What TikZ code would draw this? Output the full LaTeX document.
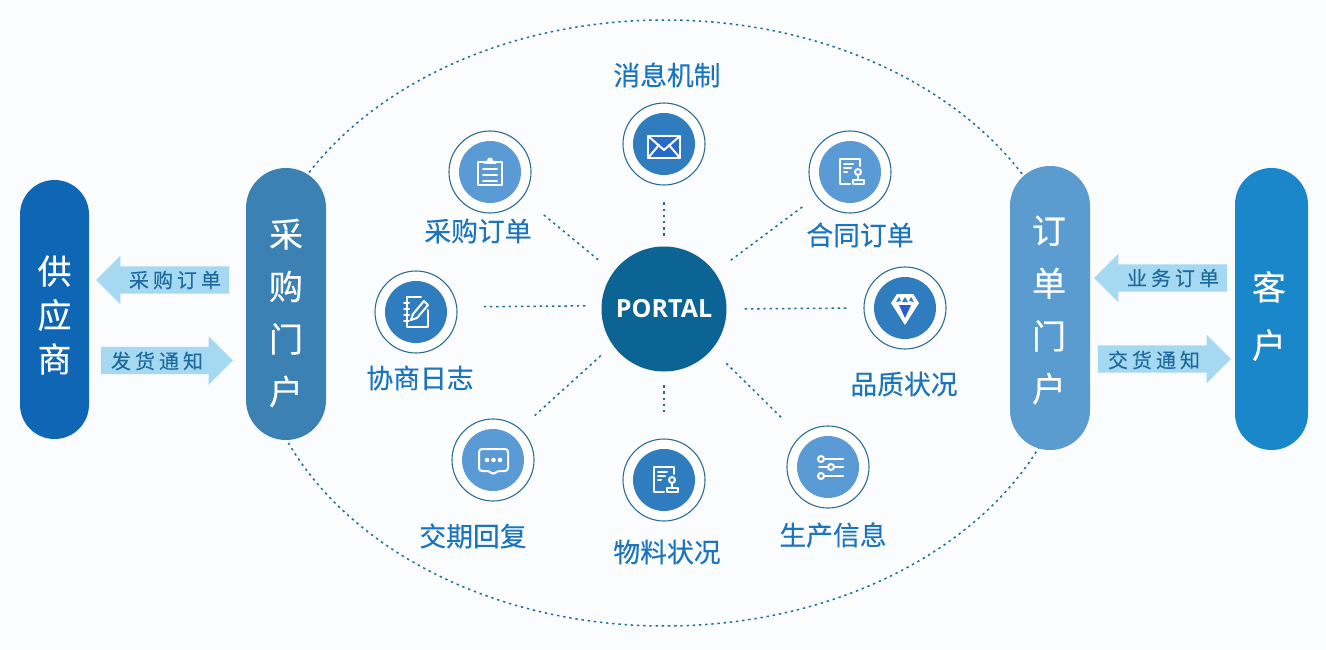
\documentclass[tikz,border=0pt]{standalone}
\usepackage{fontspec}
\usetikzlibrary{shapes.geometric,shapes.arrows}
\setmainfont[FakeBold=0.25]{Noto Sans CJK SC}
\newfontfamily\arrowfont[LetterSpace=20,FakeBold=0.25]{Noto Sans CJK SC}
\newfontfamily\hubfont{Open Sans}
\definecolor{bgc}{HTML}{FBFCFE}
\definecolor{dotc}{HTML}{1F6F8F}
\definecolor{ringc}{HTML}{2A6E96}
\definecolor{hubc}{HTML}{0C6494}
\definecolor{lightb}{HTML}{5B9BD5}
\definecolor{darkb}{HTML}{2F7DBE}
\definecolor{txtc}{HTML}{1A74BE}
\definecolor{arrc}{HTML}{A5D8F1}
\definecolor{arrt}{HTML}{1F6A9C}
\definecolor{supc}{HTML}{0F66B4}
\definecolor{purc}{HTML}{3B81B4}
\definecolor{ordc}{HTML}{5A9BD0}
\definecolor{cusc}{HTML}{1B87CB}
\tikzset{
  dotline/.style={draw=dotc,line width=1.5pt,dash pattern=on 2.4pt off 3.8pt},
  pill/.style={rectangle,inner sep=0pt},
  pilltext/.style={text=white,align=center,inner sep=0pt},
  sat/.style={circle,draw=ringc,line width=1.1pt,fill=white,minimum size=82pt,inner sep=0pt},
  core/.style={circle,minimum size=62pt,inner sep=0pt},
  lab/.style={text=txtc,font=\fontsize{26.8}{30}\selectfont,inner sep=0pt},
  flow/.style={single arrow,fill=arrc,inner xsep=0pt,inner ysep=13.5pt,single arrow tip angle=90,single arrow head extend=10.5pt,anchor=center},
  flowtext/.style={text=arrt,font=\arrowfont\fontsize{20}{24}\selectfont,inner sep=0pt},
  ico/.style={draw=white,line width=2pt,line join=round,line cap=round},
  mail icon/.pic={
    \draw[ico,fill=blue!15!darkb] (-16,-8) rectangle (16,14);
    \draw[ico] (-16,-8) -- (0,6) -- (16,-8) (-16,14) -- (-5,1) (16,14) -- (5,1);
  },
  clip icon/.pic={
    \draw[ico] (-12,-10) rectangle (12,13);
    \fill[white] (-6,-11) -- (-3,-11) -- (-2,-14) -- (2,-14) -- (3,-11) -- (6,-11) -- (6,-8) -- (-6,-8) -- cycle;
    \draw[ico] (-7,-3) -- (7,-3) (-7,3) -- (7,3) (-7,9) -- (7,9);
  },
  stamp icon/.pic={
    \draw[ico] (0,12) -- (-10,12) -- (-10,-13) -- (10,-13) -- (10,-6);
    \draw[ico] (-6,-8) -- (3,-8) (-6,-4) -- (1,-4) (-6,0) -- (-3,0);
    \draw[ico] (8,0) circle (3);
    \draw[ico] (8,3) -- (8,7);
    \draw[ico] (3,8) rectangle (14,12);
  },
  gem icon/.pic={
    \fill[white] (-8,-14) -- (8,-14) -- (14,-5) -- (0,17) -- (-14,-5) -- cycle;
    \fill[blue!25!darkb] (-6,-3) -- (6,-3) -- (0,10) -- cycle;
    \fill[darkb] (0,-11) -- (3,-6) -- (-3,-6) -- cycle;
    \fill[darkb] (-6,-11) -- (-4,-7) -- (-9,-6) -- cycle;
    \fill[darkb] (6,-11) -- (4,-7) -- (9,-6) -- cycle;
  },
  note icon/.pic={
    \draw[ico] (5,-15) -- (-9,-15) -- (-9,15) -- (12,15) -- (12,-2);
    \draw[ico] (-12,-9) -- (-7,-9) (-12,-3) -- (-7,-3) (-12,3) -- (-7,3) (-12,9) -- (-7,9);
    \draw[ico,fill=darkb] (-5,8) -- (-3,2) -- (8,-11) -- (12,-7) -- (1,6) -- cycle;
  },
  chat icon/.pic={
    \draw[ico,rounded corners=3pt] (-14,-11) -- (15,-11) -- (15,11) -- (4,11) -- (0,15) -- (-3,11) -- (-14,11) -- cycle;
    \fill[white] (-6,0) circle (2.3) (0.5,0) circle (2.3) (7,0) circle (2.3);
  },
  slider icon/.pic={
    \draw[ico] (-7,-8) circle (3) (-7,9) circle (3) (3,0) circle (3);
    \draw[ico] (-3,-8) -- (15,-8) (-3,9) -- (15,9) (-9,0) -- (-1,0) (7,0) -- (15,0);
  }
}
\begin{document}
\begin{tikzpicture}[x=1pt,y=-1pt]
\useasboundingbox[fill=bgc] (0,0) rectangle (1326,650);

\node[ellipse,minimum width=820pt,minimum height=606pt,inner sep=0pt,dotline] (orbit) at (665,323) {};

\node[circle,fill=hubc,minimum size=125pt,inner sep=0pt,text=white,font=\hubfont\bfseries\fontsize{25}{30}\selectfont] (hub) at (664,309) {PORTAL};

\node[sat] (s1) at (664,144) {};
\node[sat] (s2) at (490,172) {};
\node[sat] (s3) at (850,172) {};
\node[sat] (s4) at (416,312) {};
\node[sat] (s5) at (905,308) {};
\node[sat] (s6) at (493,460) {};
\node[sat] (s7) at (664,480) {};
\node[sat] (s8) at (828,467) {};

\draw[dotline,shorten <=10.5pt,shorten >=15pt] (hub.north) -- (s1.south);
\draw[dotline,shorten <=19.5pt,shorten >=24.5pt] (hub.144.5) -- (s2.-38.8);
\draw[dotline,shorten <=20pt,shorten >=17pt] (hub.36.6) -- (s3.216.7);
\draw[dotline,shorten <=16pt,shorten >=23pt] (hub.177) -- (s4.7);
\draw[dotline,shorten <=18pt,shorten >=16pt] (hub.east) -- (s5.west);
\draw[dotline,shorten <=16pt,shorten >=17pt] (hub.215.5) -- (s6.49.7);
\draw[dotline,shorten <=13.5pt,shorten >=24pt] (hub.south) -- (s7.north);
\draw[dotline,shorten <=20pt,shorten >=24pt] (hub.-40) -- (s8.132.6);

\node[core,fill=darkb] (c1) at (s1) {};
\node[core,fill=lightb] (c2) at (s2) {};
\node[core,fill=lightb] (c3) at (s3) {};
\node[core,fill=darkb] (c4) at (s4) {};
\node[core,fill=darkb] (c5) at (s5) {};
\node[core,fill=lightb] (c6) at (s6) {};
\node[core,fill=darkb] (c7) at (s7) {};
\node[core,fill=lightb] (c8) at (s8) {};

\pic at (c1) {mail icon};
\pic at (c2) {clip icon};
\pic at (c3) {stamp icon};
\pic at (c4) {note icon};
\pic at (c5) {gem icon};
\pic at (c6) {chat icon};
\pic at (c7) {stamp icon};
\pic at (c8) {slider icon};

\node[lab] (l1) at (667,75) {消息机制};
\node[lab] (l2) at (478,231) {采购订单};
\node[lab] (l3) at (860,235) {合同订单};
\node[lab] (l4) at (420,378) {协商日志};
\node[lab] (l5) at (904,384) {品质状况};
\node[lab] (l6) at (473,536) {交期回复};
\node[lab] (l7) at (667,552) {物料状况};
\node[lab] (l8) at (833,535) {生产信息};

\node[pill,fill=supc,rounded corners=34.5pt,minimum width=69pt,minimum height=259pt] (sup) at (54.5,309.5) {};
\node[pill,fill=purc,rounded corners=40pt,minimum width=80pt,minimum height=272pt] (pur) at (286,304) {};
\node[pill,fill=ordc,rounded corners=40pt,minimum width=80pt,minimum height=284pt] (ord) at (1050,308) {};
\node[pill,fill=cusc,rounded corners=36.5pt,minimum width=73pt,minimum height=282pt] (cus) at (1271.5,309) {};

\node[pilltext,font=\fontsize{34}{44}\selectfont] (supt) at (54.5,315) {供\\应\\商};
\node[pilltext,font=\fontsize{34}{52.5}\selectfont] (purt) at (286,313) {采\\购\\门\\户};
\node[pilltext,font=\fontsize{34}{52.7}\selectfont] (ordt) at (1049,310) {订\\单\\门\\户};
\node[pilltext,font=\fontsize{34}{58}\selectfont] (cust) at (1269,316) {客\\户};

\node[flow,shape border rotate=180,minimum height=133pt] (a1) at (169.5,280) {};
\node[flow,minimum height=132pt] (a2) at (160,360.5) {};
\node[flow,shape border rotate=180,minimum height=133pt] (a3) at (1167.5,278) {};
\node[flow,minimum height=133pt] (a4) at (1157.5,359) {};

\node[flowtext] (t1) at (175,280) {采购订单};
\node[flowtext] (t2) at (157,361) {发货通知};
\node[flowtext] (t3) at (1173,278) {业务订单};
\node[flowtext] (t4) at (1154,360) {交货通知};
\end{tikzpicture}
\end{document}
